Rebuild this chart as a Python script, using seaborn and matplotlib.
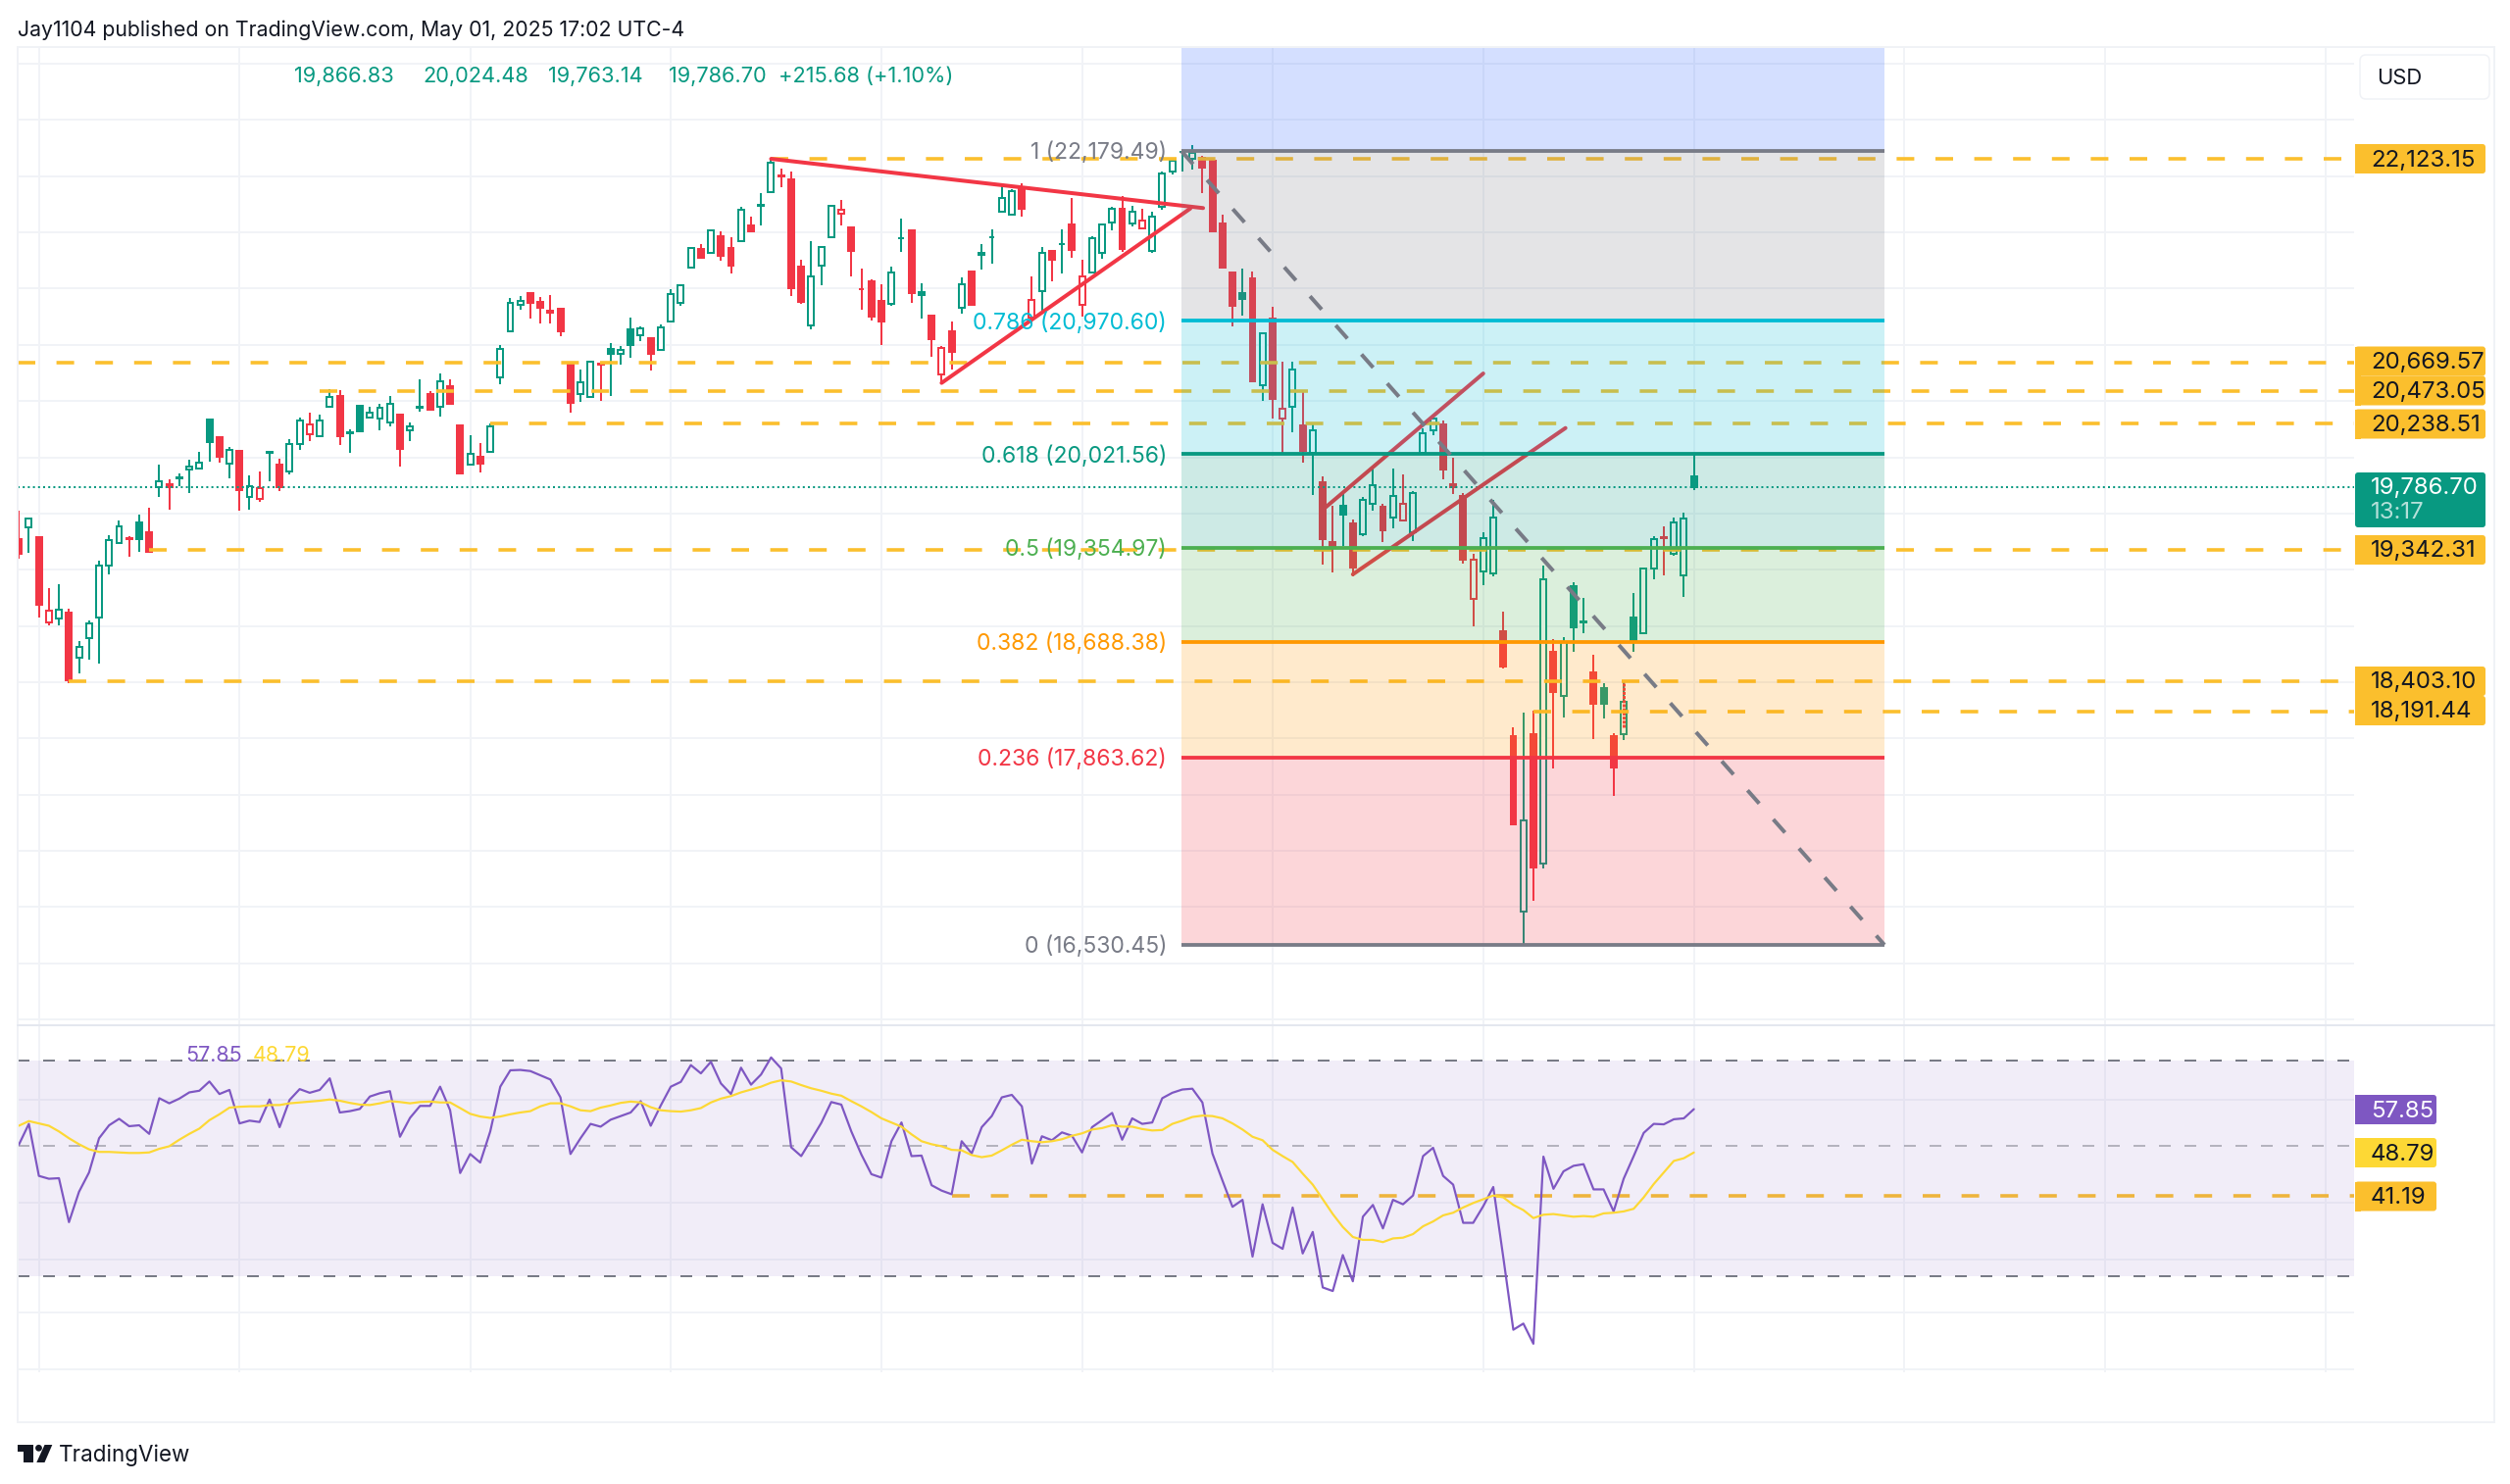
import numpy as np
import matplotlib
matplotlib.use("Agg")
import matplotlib.pyplot as plt
from matplotlib.patches import Rectangle, FancyBboxPatch, Polygon, Circle
import seaborn as sns

# ---------- data ----------
wick_highs = [
 19619,19571,19432,19068,19098,18921,18689,18841,19263,19445,
 19549,19442,19592,19638,19950,19843,19886,19980,20036,20268,
 20145,20070,20046,19870,19897,20046,19988,20127,20279,20314,
 20306,20487,20479,20196,20375,20356,20380,20434,20306,20249,
 20551,20471,20594,20557,20225,20156,20100,20239,20800,21131,
 21150,21177,21142,21153,21059,20680,20621,20690,20672,20813,
 20795,20994,20934,20850,20948,21196,21231,21494,21515,21619,
 21605,21564,21782,21715,21882,22133,22057,22033,21406,21538,
 21506,21794,21833,21638,21343,21266,21231,21354,21701,21619,
 21236,21010,20794,20964,21280,21324,21515,21619,21938,21905,
 21947,21289,21494,21475,21619,21843,21403,21573,21664,21785,
 21861,21789,21771,21745,22033,22133,22180,22219,22143,22115,
 21724,21324,21343,21320,20892,21068,20682,20682,20469,20250,
 19862,19655,19748,19557,19720,19934,19671,19918,19878,19762,
 20204,20285,20262,19999,19748,19313,19464,19697,18899,18078,
 18185,18197,19227,18704,18722,19108,18999,18592,18390,18034,
 18411,19036,19213,19441,19511,19571,19604,20024.48]
body_tops = [
 19416,19565,19432,18911,18916,18897,18649,18817,19229,19413,
 19507,19424,19533,19469,19830,19811,19854,19934,19964,20268,
 20142,20054,20043,19793,19782,20036,19948,20097,20260,20233,
 20263,20428,20436,20175,20367,20316,20354,20378,20300,20223,
 20356,20447,20541,20506,20225,20025,20006,20223,20773,21099,
 21110,21171,21102,21043,21054,20674,20533,20682,20666,20768,
 20763,20910,20915,20850,20924,21161,21224,21487,21482,21617,
 21571,21487,21761,21650,21794,22094,22005,21975,21354,21285,
 21499,21792,21761,21633,21199,21250,21113,21317,21561,21612,
 21173,21008,20778,20894,21229,21322,21454,21568,21847,21891,
 21908,21122,21454,21468,21519,21657,21289,21561,21654,21766,
 21768,21747,21685,21710,22022,22110,22175,22166,22133,22110,
 21661,21313,21168,21275,20880,20987,20348,20622,20224,20190,
 19825,19399,19652,19529,19697,19801,19646,19727,19669,19743,
 20171,20276,20231,19811,19727,19271,19427,19571,18764,18016,
 17418,18030,19134,18616,18683,19085,18829,18467,18360,18016,
 18262,18860,19208,19420,19429,19534,19564,19866.83]
body_bottoms = [
 19312,19499,18951,18823,18855,18411,18574,18716,18860,19229,
 19389,19416,19418,19330,19790,19784,19849,19910,19921,20110,
 20004,19956,19766,19718,19704,20031,19784,19897,20092,20161,
 20148,20359,20153,20170,20185,20281,20273,20249,20060,20193,
 20351,20340,20362,20378,19883,19948,19953,20036,20570,20896,
 21083,21099,21067,21032,20893,20386,20447,20431,20661,20736,
 20733,20799,20868,20736,20766,20968,21096,21352,21417,21454,
 21436,21361,21538,21608,21789,21887,22000,21206,21103,20938,
 21363,21564,21733,21468,21194,21003,20966,21094,21557,21168,
 21152,20843,20587,20748,21061,21085,21438,21564,21750,21729,
 21768,20994,21185,21406,21515,21473,21083,21313,21452,21671,
 21482,21661,21626,21466,21782,22033,22170,22124,22064,21608,
 21347,21080,21129,20541,20513,20417,20276,20357,20045,20029,
 19420,19371,19590,19215,19453,19669,19478,19569,19553,19464,
 20034,20194,19911,19790,19271,18992,19187,19171,18513,17388,
 16767,17081,17109,18332,18304,18790,18822,18246,18246,17795,
 18030,18683,18746,19206,19422,19311,19160,19786.70]
wick_lows = [
 19277,19322,18863,18804,18801,18395,18462,18563,18529,19165,
 19384,19290,19330,19325,19720,19630,19795,19744,19918,19966,
 19961,19851,19619,19630,19686,19830,19758,19878,20052,20116,
 20142,20356,20084,20033,20182,20273,20191,20217,19931,20116,
 20322,20337,20290,20375,19878,19945,19894,20033,20522,20893,
 21048,20990,20950,20955,20861,20316,20396,20426,20404,20434,
 20656,20710,20829,20615,20759,20966,21080,21340,21410,21449,
 21396,21310,21533,21599,21647,21882,21922,21145,21092,20910,
 21222,21561,21650,21289,21050,20975,20796,21075,21459,21096,
 20989,20715,20529,20622,21022,21083,21333,21378,21748,21724,
 21710,20952,21029,21252,21310,21422,21001,21308,21410,21617,
 21464,21640,21624,21452,21764,22010,22033,22050,21882,21601,
 21343,20929,21010,20539,20403,20278,20029,20178,19964,19734,
 19239,19178,19371,19150,19436,19622,19394,19497,19546,19406,
 20022,20159,19845,19739,19241,18797,19092,19153,18499,17381,
 16530,16844,17074,17788,18151,18613,18750,17995,18139,17588,
 17988,18613,18741,19134,19157,19301,19006,19763.14]
# g = up hollow, G = up filled, r = down hollow, R = down filled
candle_kinds = ("RgRrgRgggg" "gRGRgRGggG" "RgRgrGRggr" "ggRGGgggRg" "GRgRRgRggg"
                "gRRRRRggRG" "gGgRggggRg" "RRgRGgRRRg" "ggrRRRRgGR" "GRrRgRGGgg"
                "RrgRGRrggg" "RgrgggGgRR" "RRGRgRrgRg" "RRGRggRgrg" "ggRRRrggRR"
                "gRgRgGGRGR" "gGggRggG")

rsi_values = [
 50.3,54.6,44.5,44.0,44.1,37.1,41.8,45.1,51.6,54.3,
 55.7,54.1,54.3,52.5,60.4,59.2,60.3,61.8,62.2,64.5,
 61.4,62.4,54.7,55.3,55.0,60.1,53.9,60.0,62.6,61.7,
 62.4,65.3,57.1,57.4,57.9,60.8,61.6,62.1,51.9,55.9,
 58.6,58.6,63.2,57.6,45.0,48.5,46.9,53.0,63.2,67.4,
 67.5,67.2,66.1,65.0,60.6,48.5,51.6,54.6,54.0,55.5,
 56.3,57.1,59.7,54.2,58.7,63.2,64.4,68.8,66.6,69.7,
 64.0,61.4,68.1,63.7,66.3,70.9,67.9,49.8,48.1,51.3,
 54.8,59.5,58.9,53.0,48.4,44.8,44.2,51.0,54.9,48.1,
 48.2,42.9,42.0,41.4,51.0,48.6,53.9,56.3,60.6,61.2,
 58.5,46.7,52.0,51.2,52.8,52.1,48.8,53.9,55.4,57.0,
 51.3,55.8,54.6,54.9,60.4,61.7,62.5,62.7,59.4,48.6,
 43.7,39.4,40.5,32.4,39.8,34.2,33.4,39.3,32.8,35.7,
 28.7,28.3,32.6,29.4,37.9,39.7,36.2,40.5,39.8,41.2,
 48.1,49.7,44.5,43.0,37.0,37.0,39.5,42.6,32.3,24.3,
 24.9,23.0,48.0,42.3,45.3,46.3,46.6,42.2,42.2,38.7,
 44.0,48.1,52.7,54.6,54.5,55.6,55.8,57.85]
rsi_ma_values = [
 54.2,55.2,54.7,54.2,53.0,51.6,50.4,49.4,48.9,48.9,
 48.8,48.7,48.7,48.8,49.5,50.0,51.3,52.5,53.6,55.4,
 56.7,58.2,58.4,58.5,58.5,58.8,58.8,59.2,59.4,59.6,
 59.8,60.1,59.8,59.3,58.9,58.8,59.2,59.7,59.5,59.2,
 59.5,59.6,59.4,59.4,58.1,56.8,56.2,55.9,56.2,56.7,
 57.1,57.4,58.5,59.2,59.2,58.5,57.6,57.4,58.2,58.7,
 59.3,59.6,59.4,58.3,57.6,57.4,57.3,57.6,58.1,59.4,
 60.3,60.9,61.8,62.5,63.2,64.2,64.8,64.5,63.6,62.8,
 62.2,61.5,61.0,59.7,58.5,57.2,55.8,54.9,54.0,52.4,
 51.0,50.4,50.0,49.3,49.2,48.3,47.9,48.2,49.2,50.3,
 51.3,51.0,50.8,51.0,51.4,52.1,52.6,53.4,53.7,54.3,
 54.0,54.0,53.5,53.2,53.3,54.6,55.3,56.1,56.4,56.3,
 55.8,54.7,53.4,51.9,51.2,49.3,48.1,47.0,44.9,43.0,
 40.6,38.3,36.4,35.0,34.6,34.6,34.3,34.8,34.9,35.4,
 36.5,37.2,38.1,38.5,39.3,40.0,40.6,41.2,40.9,39.7,
 38.9,37.7,38.2,38.3,38.1,37.9,38.0,37.9,38.4,38.5,
 38.7,39.1,40.9,43.1,45.1,47.2,47.7,48.79]

fib_ratios = ["1", "0.786", "0.618", "0.5", "0.382", "0.236", "0"]
fib_prices = [22179.49, 20970.60, 20021.56, 19354.97, 18688.38, 17863.62, 16530.45]
fib_colors = ["#787b86", "#00bcd4", "#089981", "#4caf50", "#ff9800", "#f23645", "#787b86"]
fib_fills = ["#2962ff", "#787b86", "#00bcd4", "#089981", "#4caf50", "#ff9800", "#f23645"]
fib_span = (115.9, 186.0)

level_prices = [22123.15, 20669.57, 20473.05, 20238.51, 19342.31, 18403.10, 18191.44]
level_starts = [75, -1, 30, 47, 13, 5, 151]
last_price = 19786.70
rsi_level = 41.19
rsi_level_start = 93

triangle_upper = ([75, 118.07], [22123.15, 21773])
triangle_lower = ([92, 116.8], [20529, 21770])
channel_upper = ([130.3, 146.0], [19645, 20596])
channel_lower = ([133, 154.2], [19167, 20208])
marked_wick = (160, 18081, 18406)

price_grid = np.arange(16000, 23000, 400)
rsi_grid = [60, 40, 32, 26, 20.8]
date_grid = [2, 22, 45, 65, 86, 106, 125, 146, 167, 188, 208, 230]
ohlc_texts = ["19,866.83", "20,024.48", "19,763.14", "19,786.70", "+215.68 (+1.10%)"]
side_labels = ["22,123.15", "20,669.57", "20,473.05", "20,238.51", "19,342.31", "18,403.10", "18,191.44"]

# ---------- style ----------
sns.set_theme(style="white")
plt.rcParams["font.family"] = ["Inter", "DejaVu Sans"]
UP, DOWN, AMBER, GRID = "#089981", "#f23645", "#fbbf2d", "#f1f3f7"
W, H = 2560, 1514
PX = 0.72
DASH = (0, (5, 6))

fig = plt.figure(figsize=(W / 100, H / 100), dpi=100, facecolor="white")
def pane(x0, y0, x1, y1):
    return fig.add_axes([x0 / W, 1 - y1 / H, (x1 - x0) / W, (y1 - y0) / H])

ax = pane(18, 48, 2401, 1045)
rx = pane(18, 1045, 2401, 1400)
xlim = ((18 - 19.2) / 10.23, (2401 - 19.2) / 10.23)

for a in (ax, rx):
    a.set_xlim(*xlim)
    a.set_facecolor("none")
    for s in a.spines.values():
        s.set_visible(False)
    a.set_xticks(date_grid)
    a.grid(True, color=GRID, lw=2 * PX, zorder=0)
    a.set_axisbelow(True)
    a.tick_params(length=0, labelbottom=False, labelleft=False)

# ---------- price pane ----------
ax.set_ylim(15965.6, 22918.6)
ax.set_yticks(price_grid)

x = np.arange(len(wick_highs))
highs, lows = np.array(wick_highs), np.array(wick_lows)
tops, bottoms = np.array(body_tops), np.array(body_bottoms)
edge = [UP if k in "gG" else DOWN for k in candle_kinds]
face = ["white" if k in "gr" else (UP if k == "G" else DOWN) for k in candle_kinds]
ax.vlines(x, lows, highs, colors=edge, lw=2 * PX, zorder=2)
ax.bar(x, tops - bottoms, bottom=bottoms, width=0.58, color=face, edgecolor=edge,
       linewidth=2 * PX, zorder=2.5)
ax.vlines(marked_wick[0], marked_wick[1], marked_wick[2], colors=DOWN, lw=3 * PX, zorder=2.6,
          linestyles=(0, (1, 0.4)))

ax.axhline(last_price, color=UP, lw=2 * PX, ls=(0, (1, 1.6)), zorder=2.7)
xmax = xlim[1]
for p, s in zip(level_prices, level_starts):
    ax.plot([max(s, xlim[0]), xmax], [p, p], color=AMBER, lw=3.6 * PX, ls=DASH,
            dash_capstyle="butt", zorder=3)
for xs, ys in (triangle_upper, triangle_lower, channel_upper, channel_lower):
    ax.plot(xs, ys, color=DOWN, lw=4 * PX, solid_capstyle="round", zorder=3.2)

edges = [ax.get_ylim()[1]] + fib_prices
for i, c in enumerate(fib_fills):
    ax.fill_between(fib_span, edges[i + 1], edges[i], color=c, alpha=0.2, lw=0, zorder=4)
for r, p, c in zip(fib_ratios, fib_prices, fib_colors):
    ax.plot(fib_span, [p, p], color=c, lw=3.8 * PX, zorder=5, solid_capstyle="butt")
    ax.text(114.45, p - 14, f"{r} ({p:,.2f})", color=c, ha="right", va="center",
            fontsize=22.9 * PX, zorder=6)
ax.plot(fib_span, [fib_prices[0], fib_prices[-1]], color="#787b86", lw=4 * PX,
        ls=(0, (4.5, 5.4)), dash_capstyle="butt", zorder=5.5)

# ---------- RSI pane ----------
rx.set_yscale("log")
rx.set_ylim(20.56, 80.77)
rx.set_yticks(rsi_grid)
rx.minorticks_off()
rx.yaxis.set_major_formatter(matplotlib.ticker.NullFormatter())
rx.axhspan(30, 70, color="#7e57c2", alpha=0.1, lw=0, zorder=1.5)
rx.plot([rsi_level_start, xmax], [rsi_level] * 2, color=AMBER, lw=3.6 * PX, ls=DASH,
        dash_capstyle="butt", zorder=1.2)
for v, al in ((70, 1), (50, 0.5), (30, 1)):
    rx.axhline(v, color="#787b86", alpha=al, lw=2 * PX, ls=(0, (6, 7)), dash_capstyle="butt", zorder=2)
sns.lineplot(x=x, y=rsi_values, ax=rx, color="#7e57c2", linewidth=2.2 * PX, legend=False, zorder=3,
             estimator=None, sort=False)
sns.lineplot(x=x, y=rsi_ma_values, ax=rx, color="#fdd835", linewidth=2.2 * PX, legend=False, zorder=3,
             estimator=None, sort=False)
rx.set_xlabel(""); rx.set_ylabel("")
rx.set_xlim(*xlim)

# ---------- page furniture in pixel coordinates ----------
ov = fig.add_axes([0, 0, 1, 1], zorder=10)
ov.set_xlim(0, W); ov.set_ylim(H, 0); ov.axis("off"); ov.patch.set_alpha(0)
ov.add_patch(Rectangle((18, 48), 2544 - 18, 1451 - 48, fill=False, ec="#f0f2f6", lw=2 * PX))
ov.plot([18, 2544], [1045.6, 1045.6], color="#e4e7ef", lw=2 * PX)

ink = "#131722"
ov.text(18, 30.5, "Jay1104 published on TradingView.com, May 01, 2025 17:02 UTC-4",
        color=ink, fontsize=21.3 * PX, va="center")
for t, px in zip(ohlc_texts, [300, 431, 559, 682, 794]):
    ov.text(px, 78, t, color=UP, fontsize=21.8 * PX, va="center")
ov.text(189, 1077, f"{rsi_values[-1]:.2f}", color="#7e57c2", fontsize=21.5 * PX, va="center")
ov.text(258, 1077, f"{rsi_ma_values[-1]:.2f}", color="#fdd835", fontsize=21.5 * PX, va="center")

def tag(y, text, fc, tc, x1=2535, h=30):
    ov.add_patch(FancyBboxPatch((2402, y - h / 2), x1 - 2402, h, boxstyle="round,pad=0,rounding_size=3",
                                fc=fc, ec="none"))
    ov.add_patch(Rectangle((2402, y - h / 2), 6, h, fc=fc, ec="none"))
    ov.text(2418, y + 1.5, text, color=tc, fontsize=24 * PX, va="center")

for t, y in zip(side_labels, [162, 368.5, 398.5, 432.5, 561, 695, 725]):
    tag(y, t, AMBER, ink)
ov.add_patch(FancyBboxPatch((2402, 482), 133, 56, boxstyle="round,pad=0,rounding_size=3", fc=UP, ec="none"))
ov.text(2418, 498, f"{last_price:,.2f}", color="white", fontsize=24 * PX, va="center")
ov.text(2418, 523, "13:17", color="white", alpha=0.7, fontsize=24 * PX, va="center")
tag(1132, f"{rsi_values[-1]:.2f}", "#7e57c2", "white", x1=2485)
tag(1176, f"{rsi_ma_values[-1]:.2f}", "#fdd835", ink, x1=2485)
tag(1220.5, f"{rsi_level:.2f}", AMBER, ink, x1=2485)

ov.add_patch(FancyBboxPatch((2407, 56), 132, 45, boxstyle="round,pad=0,rounding_size=6",
                            fc="white", ec="#f0f2f6", lw=1.5 * PX))
ov.text(2424, 80, "USD", color=ink, fontsize=22 * PX, va="center")

# TradingView mark and word
ov.add_patch(Polygon([(17.5, 1474), (33.5, 1474), (33.5, 1492),
                      (24, 1492), (24, 1480.8), (17.5, 1480.8)], fc=ink, ec="none"))
ov.add_patch(Circle((39.5, 1477.3), 3.4, fc=ink, ec="none"))
ov.add_patch(Polygon([(45.5, 1474), (53.3, 1474), (45.5, 1492), (37.3, 1492)],
                     fc=ink, ec="none"))
ov.text(60, 1484.5, "TradingView", color=ink, fontsize=22.4 * PX, va="center")

fig.savefig("out.png", dpi=100, facecolor="white")
